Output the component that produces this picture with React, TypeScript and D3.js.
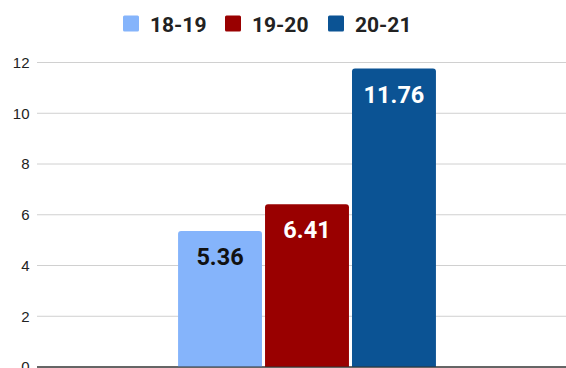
import React from "react";
import * as d3 from "d3";

const seasons = ["18-19", "19-20", "20-21"];
const values = [5.36, 6.41, 11.76];
const colors = ["#85b4fb", "#990000", "#0b5394"];
const labelColors = ["#111111", "#ffffff", "#ffffff"];
const yTicks = [0, 2, 4, 6, 8, 10, 12];

const W = 566;
const H = 368;

export default function App() {
  const y = d3.scaleLinear().domain([0, 12]).range([367, 62.5]);
  const outer = d3.scaleBand<string>().domain(["all"]).range([37, 577]).paddingOuter(0.547).paddingInner(0);
  const inner = d3
    .scaleBand<string>()
    .domain(seasons)
    .range([0, outer.bandwidth()])
    .paddingInner(0.035)
    .paddingOuter(0);
  const x0 = outer("all") ?? 0;
  const r = 3;

  const barPath = (x: number, w: number, top: number, bottom: number) =>
    `M${x},${bottom}V${top + r}Q${x},${top} ${x + r},${top}H${x + w - r}Q${x + w},${top} ${x + w},${top + r}V${bottom}Z`;

  // legend layout
  const legendX = [123, 225, 328];

  return (
    <svg
      width={W}
      height={H}
      style={{ position: "absolute", left: 0, top: 0, background: "#fff" }}
    >
      {yTicks.map((t) => (
        <g key={t}>
          <line
            x1={37}
            x2={W}
            y1={y(t)}
            y2={y(t)}
            stroke={t === 0 ? "#333" : "#d0d0d0"}
            strokeWidth={1}
          />
          <text
            x={29.5}
            y={y(t)}
            dy="0.36em"
            textAnchor="end"
            fontFamily="'Liberation Sans', Arial, sans-serif"
            fontSize={15}
            fill="#222"
          >
            {t}
          </text>
        </g>
      ))}
      {seasons.map((s, i) => {
        const bx = x0 + (inner(s) ?? 0);
        const bw = inner.bandwidth();
        const top = y(values[i]);
        return (
          <g key={s}>
            <path d={barPath(bx, bw, top, y(0))} fill={colors[i]} />
            <text
              x={bx + bw / 2}
              y={top + 34}
              textAnchor="middle"
              fontFamily="Roboto, sans-serif"
              fontWeight="bold"
              fontSize={23.5}
              fill={labelColors[i]}
            >
              {values[i].toFixed(2)}
            </text>
          </g>
        );
      })}
      <line x1={37} x2={W} y1={y(0)} y2={y(0)} stroke="#333" strokeWidth={1} />
      {seasons.map((s, i) => (
        <g key={"lg" + s} transform={`translate(${legendX[i]},0)`}>
          <rect x={0} y={15.5} width={16} height={16} rx={1.5} fill={colors[i]} />
          <text
            x={27}
            y={31.5}
            fontFamily="Roboto, sans-serif"
            fontWeight="bold"
            fontSize={21}
            fill="#222"
          >
            {s}
          </text>
        </g>
      ))}
    </svg>
  );
}
